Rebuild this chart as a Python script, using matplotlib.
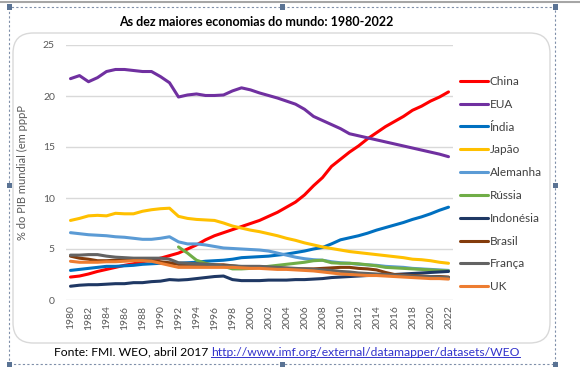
import numpy as np
import matplotlib
matplotlib.use("Agg")
import matplotlib.pyplot as plt
from matplotlib.patches import FancyBboxPatch, Rectangle
from matplotlib.lines import Line2D

years = list(range(1980, 2023))
nan = np.nan

china = [2.25, 2.35, 2.55, 2.8, 3.0, 3.2, 3.4, 3.55, 3.75, 3.9, 4.1, 4.35, 4.6, 5.0, 5.4,
         5.9, 6.3, 6.6, 6.9, 7.2, 7.5, 7.8, 8.2, 8.6, 9.1, 9.6, 10.3, 11.2, 12.0, 13.1,
         13.8, 14.5, 15.1, 15.8, 16.4, 17.0, 17.5, 18.0, 18.6, 19.0, 19.5, 19.9, 20.4]
eua = [21.7, 22.0, 21.4, 21.8, 22.4, 22.6, 22.6, 22.5, 22.4, 22.4, 21.9, 21.3, 19.9, 20.1,
       20.2, 20.05, 20.05, 20.1, 20.5, 20.8, 20.6, 20.3, 20.05, 19.8, 19.5, 19.2, 18.7,
       18.0, 17.6, 17.2, 16.8, 16.3, 16.1, 15.9, 15.7, 15.5, 15.3, 15.1, 14.9, 14.7, 14.5,
       14.3, 14.05]
india = [2.9, 3.0, 3.1, 3.2, 3.3, 3.3, 3.35, 3.4, 3.5, 3.55, 3.6, 3.6, 3.6, 3.65, 3.7, 3.8,
         3.85, 3.9, 4.0, 4.15, 4.2, 4.25, 4.3, 4.4, 4.5, 4.65, 4.8, 5.0, 5.15, 5.5, 5.9, 6.1,
         6.3, 6.55, 6.85, 7.1, 7.35, 7.6, 7.9, 8.15, 8.45, 8.8, 9.1]
japao = [7.8, 8.0, 8.25, 8.3, 8.25, 8.5, 8.45, 8.45, 8.7, 8.85, 8.95, 9.0, 8.2, 8.0, 7.9,
         7.85, 7.8, 7.55, 7.25, 7.05, 6.85, 6.7, 6.5, 6.3, 6.05, 5.85, 5.6, 5.4, 5.2, 5.05,
         4.9, 4.75, 4.65, 4.55, 4.45, 4.35, 4.25, 4.15, 4.0, 3.95, 3.85, 3.7, 3.6]
alemanha = [6.6, 6.5, 6.4, 6.35, 6.3, 6.2, 6.15, 6.05, 5.95, 5.95, 6.05, 6.2, 5.7, 5.5, 5.5,
            5.4, 5.25, 5.1, 5.05, 5.0, 4.95, 4.9, 4.8, 4.6, 4.4, 4.2, 4.05, 3.95, 3.9, 3.75,
            3.65, 3.6, 3.5, 3.45, 3.4, 3.3, 3.25, 3.2, 3.1, 3.05, 3.0, 2.95, 2.9]
russia = [nan] * 12 + [5.2, 4.6, 3.9, 3.6, 3.4, 3.3, 3.05, 3.05, 3.1, 3.2, 3.3, 3.4, 3.5,
                       3.6, 3.7, 3.85, 3.9, 3.65, 3.6, 3.6, 3.55, 3.45, 3.35, 3.2, 3.15,
                       3.1, 3.05, 3.0, 2.95, 2.9, 2.85]
indonesia = [1.35, 1.45, 1.5, 1.5, 1.55, 1.6, 1.6, 1.7, 1.7, 1.8, 1.85, 2.0, 1.95, 2.0, 2.1,
             2.2, 2.3, 2.35, 2.0, 1.9, 1.9, 1.9, 1.95, 1.95, 1.95, 2.0, 2.0, 2.05, 2.1, 2.2,
             2.25, 2.3, 2.35, 2.4, 2.45, 2.45, 2.5, 2.55, 2.6, 2.65, 2.7, 2.75, 2.8]
brasil = [4.3, 4.1, 4.0, 3.85, 3.85, 3.9, 4.0, 4.0, 3.9, 3.9, 3.75, 3.65, 3.5, 3.5, 3.5, 3.5,
          3.45, 3.45, 3.35, 3.25, 3.2, 3.2, 3.15, 3.1, 3.1, 3.05, 3.05, 3.05, 3.1, 3.15, 3.2,
          3.2, 3.1, 3.05, 2.95, 2.7, 2.5, 2.45, 2.4, 2.35, 2.3, 2.3, 2.25]
franca = [4.4, 4.4, 4.45, 4.45, 4.3, 4.2, 4.15, 4.1, 4.1, 4.1, 4.1, 4.0, 3.65, 3.6, 3.55,
          3.5, 3.45, 3.35, 3.35, 3.3, 3.3, 3.3, 3.25, 3.2, 3.15, 3.1, 3.05, 3.0, 2.95, 2.9,
          2.8, 2.75, 2.65, 2.6, 2.55, 2.5, 2.45, 2.4, 2.35, 2.3, 2.3, 2.25, 2.2]
uk = [3.8, 3.7, 3.7, 3.7, 3.75, 3.75, 3.8, 3.85, 3.85, 3.8, 3.6, 3.4, 3.2, 3.2, 3.2, 3.2,
      3.2, 3.2, 3.2, 3.15, 3.1, 3.1, 3.05, 3.0, 3.0, 2.95, 2.9, 2.85, 2.75, 2.65, 2.55, 2.5,
      2.45, 2.4, 2.4, 2.35, 2.3, 2.25, 2.2, 2.15, 2.1, 2.1, 2.05]

labels = ["China", "EUA", "Índia", "Japão", "Alemanha", "Rússia", "Indonésia", "Brasil",
          "França", "UK"]
series = [china, eua, india, japao, alemanha, russia, indonesia, brasil, franca, uk]
colors = ["#FF0000", "#7030A0", "#0070C0", "#FFC000", "#5B9BD5", "#70AD47", "#1F3864",
          "#843C0C", "#636363", "#ED7D31"]

title = "As dez maiores economias do mundo: 1980-2022"
ylabel = "% do PIB mundial (em pppP"
source_plain = "Fonte: FMI. WEO, abril 2017 "
source_link = "http://www.imf.org/external/datamapper/datasets/WEO"

plt.rcParams['font.family'] = ['Lato', 'DejaVu Sans']

W, H = 580, 374
fig = plt.figure(figsize=(W / 100, H / 100), dpi=100)

def fx(px):
    return px / W

def fy(py):
    return 1 - py / H

# window top border
fig.add_artist(Line2D([0, 1], [fy(2), fy(2)], color="#A6A6A6", lw=1.5, zorder=-5))

# rounded chart frame
frame = FancyBboxPatch((fx(13), fy(343)), fx(550) - fx(13), fy(33) - fy(343),
                       boxstyle="round,pad=0,rounding_size=0.035",
                       transform=fig.transFigure, facecolor="white",
                       edgecolor="#D9D9D9", lw=1.0, mutation_aspect=W / H, zorder=-5)
fig.add_artist(frame)

# selection dashed box
x0, x1, y0, y1 = 9, 555, 7, 364
fig.add_artist(Rectangle((fx(x0), fy(y1)), fx(x1) - fx(x0), fy(y0) - fy(y1),
                         transform=fig.transFigure, fill=False, edgecolor="#7F8FA9",
                         lw=0.8, ls=(0, (2, 2)), zorder=-4))
for hx in (x0, (x0 + x1) / 2, x1):
    for hy in (y0, (y0 + y1) / 2, y1):
        if hx == (x0 + x1) / 2 and hy == (y0 + y1) / 2:
            continue
        fig.add_artist(Rectangle((fx(hx - 2.5), fy(hy + 2.5)), fx(5), 5 / H,
                                 transform=fig.transFigure, facecolor="#5A7394",
                                 edgecolor="none", zorder=-3))

ax = fig.add_axes([fx(66), fy(300), fx(453) - fx(66), fy(45) - fy(300)])
ax.set_zorder(5)
ax.set_facecolor("none")
for s, c, lab in zip(series, colors, labels):
    ax.plot(years, s, color=c, lw=2.2, label=lab, solid_capstyle="round")

ax.set_xlim(1979.5, 2022.5)
ax.set_ylim(0, 25)
ax.set_yticks([0, 5, 10, 15, 20, 25])
ax.set_xticks(years[::2])
ax.set_xticklabels([str(y) for y in years[::2]], rotation=90)
ax.grid(axis="y", color="#D9D9D9", lw=1.0)
ax.set_axisbelow(True)
for sp in ax.spines.values():
    sp.set_visible(False)
ax.tick_params(axis="both", length=0, colors="#595959", labelsize=7.5)
ax.tick_params(axis="y", pad=8)
ax.tick_params(axis="x", pad=4)
ax.set_ylabel(ylabel, color="#595959", fontsize=8)
ax.yaxis.set_label_coords((28 - 66) / (453 - 66), (300 - 173) / 255)

leg = ax.legend(loc="upper left", bbox_to_anchor=(fx(460), fy(76)),
                bbox_transform=fig.transFigure, frameon=False, fontsize=8.5,
                handlelength=2.35, handletextpad=0.15, labelspacing=1.0,
                borderaxespad=0, borderpad=0)
for t in leg.get_texts():
    t.set_color("#404040")

fig.text(fx(256), fy(22), title, ha="center", va="center", fontsize=9,
         fontweight="bold", color="black")

t1 = fig.text(fx(54), fy(352), source_plain, ha="left", va="center", fontsize=8.7,
              color="#000000")
fig.canvas.draw()
r = fig.canvas.get_renderer()
bb = t1.get_window_extent(r)
t2 = fig.text(bb.x1 / W, fy(352), source_link, ha="left", va="center", fontsize=8.7,
              color="#3333CC")
fig.canvas.draw()
bb2 = t2.get_window_extent(r)
fig.add_artist(Line2D([bb2.x0 / W, bb2.x1 / W], [bb2.y0 / H + 0.002, bb2.y0 / H + 0.002],
                      color="#3333CC", lw=0.7))

fig.savefig("out.png", dpi=100)
